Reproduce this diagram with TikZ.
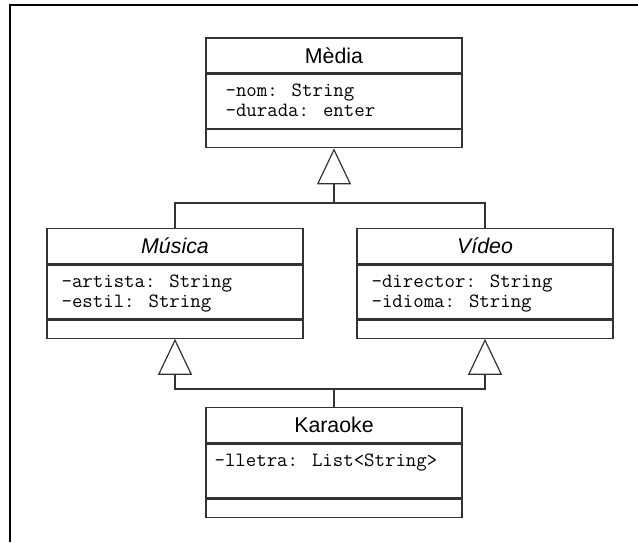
\documentclass[tikz,border=0pt]{standalone}
\usepackage{fontspec}
\setmainfont{Liberation Sans}
\usetikzlibrary{positioning,arrows.meta}
\tikzset{
  classname/.style={draw=black!80, line width=1pt, minimum width=192pt,
    minimum height=26.25pt, inner sep=0pt, font=\fontsize{16}{19}\selectfont},
  classattr/.style={draw=black!80, line width=1pt, minimum width=192pt,
    minimum height=40.5pt, inner sep=0pt},
  classops/.style={draw=black!80, line width=1pt, minimum width=192pt,
    minimum height=13.5pt, inner sep=0pt},
  fields/.style={anchor=north west, inner sep=0pt, align=left,
    font=\ttfamily\fontsize{15.2}{15}\selectfont},
  inherit/.style={-{Triangle[open,length=27pt,width=25.5pt]},
    line width=0.9pt, draw=black!80},
}

\begin{document}
\begin{tikzpicture}[x=0.75pt,y=-0.75pt]
  \useasboundingbox (0,0) rectangle (638,542);
  % frame
  \draw[line width=1.6pt] (10,542) -- (10,5) -- (638,5);

  % Media
  \node[classname] (media) at (334,55.5) {Mèdia};
  \node[classattr] (media attr) [below=0pt of media] {};
  \node[classops] (media ops) [below=0pt of media attr] {};
  \node[fields] (media fields) at ([shift={(20,10)}]media attr.north west)
    {-nom: String\\-durada: enter};

  % Musica
  \node[classname] (musica) at (175,246) {\itshape Música};
  \node[classattr] (musica attr) [below=0pt of musica] {};
  \node[classops] (musica ops) [below=0pt of musica attr] {};
  \node[fields] (musica fields) at ([shift={(15,10)}]musica attr.north west)
    {-artista: String\\-estil: String};

  % Video
  \node[classname] (video) at (485,246) {\itshape Vídeo};
  \node[classattr] (video attr) [below=0pt of video] {};
  \node[classops] (video ops) [below=0pt of video attr] {};
  \node[fields] (video fields) at ([shift={(15,10)}]video attr.north west)
    {-director: String\\-idioma: String};

  % Karaoke
  \node[classname] (karaoke) at (334,425) {Karaoke};
  \node[classattr] (karaoke attr) [below=0pt of karaoke] {};
  \node[classops] (karaoke ops) [below=0pt of karaoke attr] {};
  \node[fields] (karaoke fields) at ([shift={(9,10)}]karaoke attr.north west)
    {-lletra: List<String>};

  % generalisation
  \coordinate (upjoin) at (334,203);
  \coordinate (lowjoin) at (334,389);
  \draw[line width=0.9pt, draw=black!80] (musica.north) |- (upjoin) -| (video.north);
  \draw[inherit] (upjoin) -- (media ops.south);
  \draw[line width=0.9pt, draw=black!80] (karaoke.north) -- (lowjoin);
  \draw[inherit] (lowjoin) -| (musica ops.south);
  \draw[inherit] (lowjoin) -| (video ops.south);
\end{tikzpicture}
\end{document}
